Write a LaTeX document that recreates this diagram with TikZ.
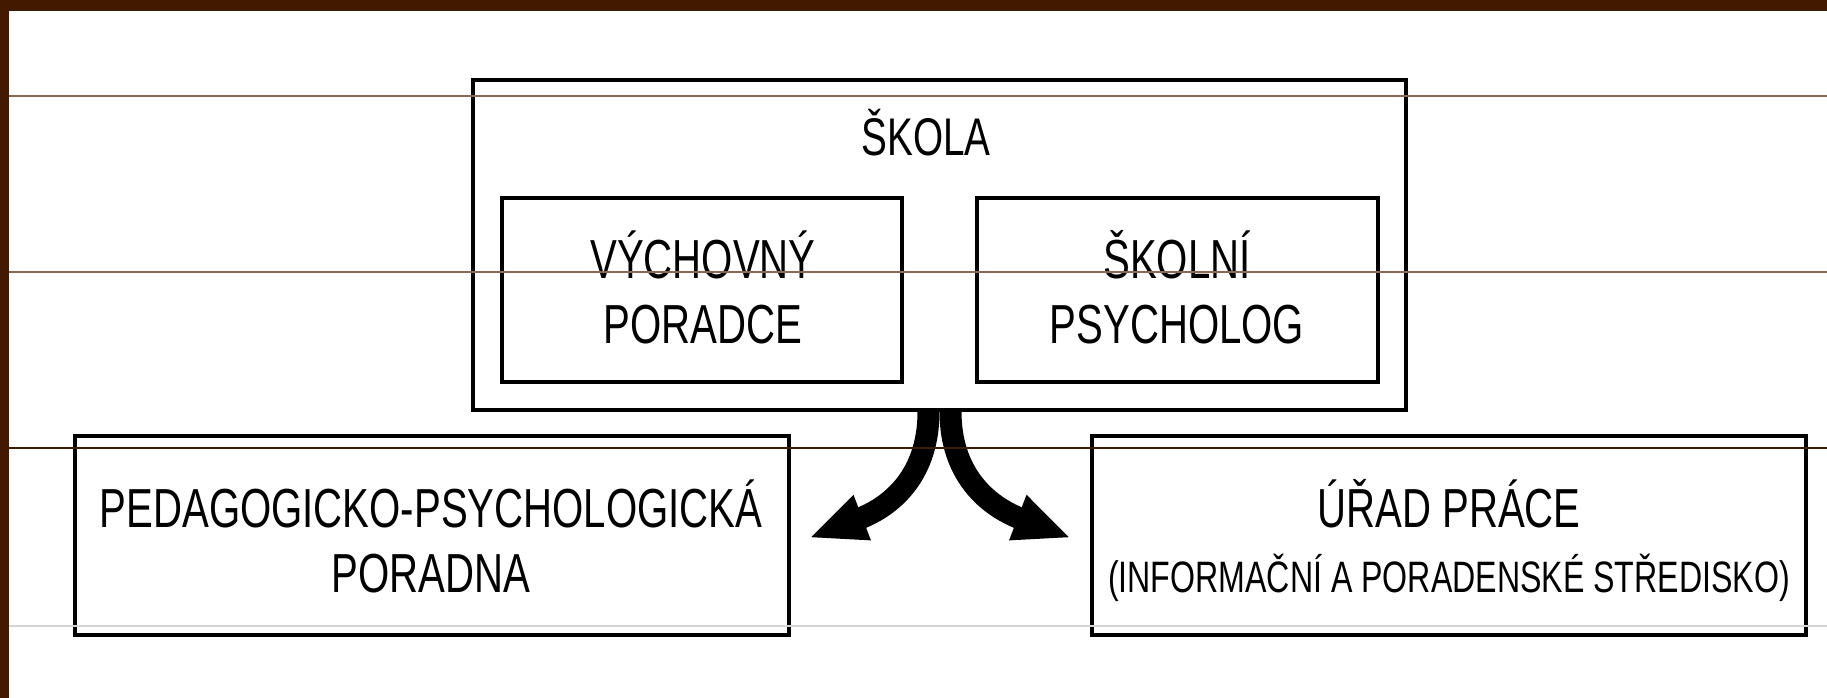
\documentclass[tikz,border=0pt]{standalone}
\usepackage{fontspec}
\setmainfont[FakeStretch=0.73]{Liberation Sans}
\usetikzlibrary{arrows.meta}
\definecolor{scanbrown}{HTML}{421A00}
\definecolor{rulebrown}{HTML}{8B6A55}
\definecolor{rulegray}{HTML}{D4D4D4}
\tikzset{
    box/.style={draw, line width=3.5pt, inner sep=0pt},
    caption/.style={anchor=base, align=center, font=\fontsize{55}{65}\selectfont},
    fork/.style={line width=22pt, -{Triangle[length=57pt,width=44pt]}},
}

\begin{document}
\begin{tikzpicture}[x=1pt, y=-1pt]
    \useasboundingbox (0,0) rectangle (1827,698);
    \fill[white] (0,0) rectangle (1827,698);
    \fill[scanbrown] (0,0) rectangle (1827,11);
    \fill[scanbrown] (0,0) rectangle (9,698);

    \node[box, minimum width=933pt, minimum height=330pt] (skola) at (939.5,245) {};
    \node[caption, font=\fontsize{53}{65}\selectfont] (skolaT) at (926,155) {ŠKOLA};
    \node[box, minimum width=400pt, minimum height=184pt] (vp) at (702,290) {};
    \node[caption] (vpT) at (703,343) {VÝCHOVNÝ\\PORADCE};
    \node[box, minimum width=401pt, minimum height=184pt] (sp) at (1177.5,290) {};
    \node[caption] (spT) at (1177,343) {ŠKOLNÍ\\PSYCHOLOG};

    \node[box, minimum width=714pt, minimum height=199pt] (ppp) at (432,535.5) {};
    \node[caption] (pppT) at (431,592) {PEDAGOGICKO-PSYCHOLOGICKÁ\\PORADNA};
    \node[box, minimum width=714pt, minimum height=199pt] (up) at (1449,535.5) {};
    \node[caption] (upT) at (1449,592) {ÚŘAD PRÁCE\\{\fontsize{44}{65}\selectfont (INFORMAČNÍ A PORADENSKÉ STŘEDISKO)}};

    \coordinate (tipL) at (809,538);
    \coordinate (tipR) at (1071,538);
    \draw[fork] ([xshift=-11pt]skola.south) .. controls (928.5,472) and (895,505) .. (tipL);
    \draw[fork] ([xshift=11pt]skola.south) .. controls (950.5,472) and (985,505) .. (tipR);

    \draw[rulebrown, line width=1.5pt] (9,96) -- (1827,96);
    \draw[rulebrown, line width=1.5pt] (9,272) -- (1827,272);
    \draw[scanbrown, line width=1.5pt] (9,448) -- (1827,448);
    \draw[rulegray, line width=1.2pt] (9,626) -- (1827,626);
\end{tikzpicture}
\end{document}
